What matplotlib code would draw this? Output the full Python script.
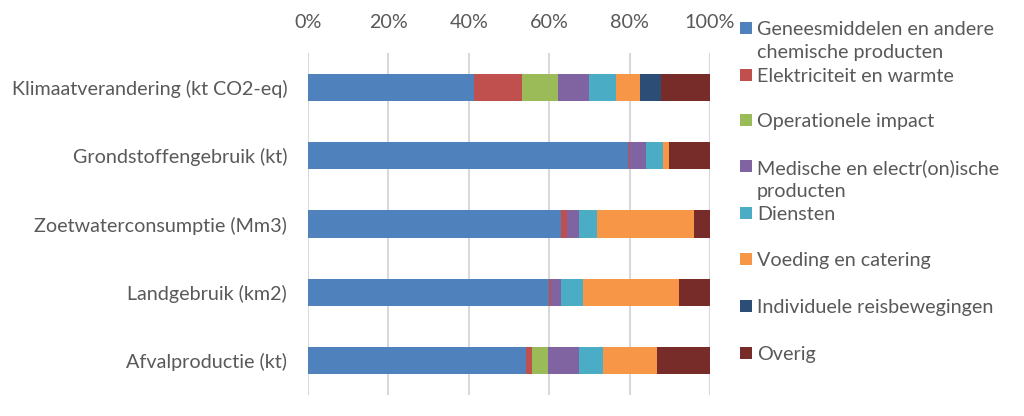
import numpy as np
import matplotlib.pyplot as plt
from matplotlib.patches import Rectangle
from matplotlib.ticker import PercentFormatter

plt.rcParams['font.family'] = ['Lato', 'DejaVu Sans']

# DATA (percent share per impact category)
categories = ["Klimaatverandering (kt CO2-eq)", "Grondstoffengebruik (kt)",
              "Zoetwaterconsumptie (Mm3)", "Landgebruik (km2)", "Afvalproductie (kt)"]
series = ["Geneesmiddelen en andere\nchemische producten", "Elektriciteit en warmte",
          "Operationele impact", "Medische en electr(on)ische\nproducten", "Diensten",
          "Voeding en catering", "Individuele reisbewegingen", "Overig"]
geneesmiddelen = [41.4, 79.5, 63.0, 59.9, 54.2]
elektriciteit = [11.8, 0.3, 1.5, 0.5, 1.4]
operationeel = [9.1, 0.0, 0.0, 0.0, 4.2]
medisch = [7.5, 4.3, 2.8, 2.6, 7.7]
diensten = [6.7, 4.3, 4.7, 5.5, 6.0]
voeding = [6.0, 1.5, 24.0, 23.7, 13.4]
reizen = [5.2, 0.0, 0.0, 0.0, 0.0]
overig = [12.3, 10.1, 4.0, 7.8, 13.1]
values = [geneesmiddelen, elektriciteit, operationeel, medisch, diensten, voeding, reizen, overig]
colors = ["#4F81BD", "#C0504D", "#9BBB59", "#8064A2", "#4BACC6", "#F79646", "#2C4D75", "#772C2A"]

txt = "#595959"
fs = 14.2
fig = plt.figure(figsize=(10.24, 4.16), dpi=100)
ax = fig.add_axes([308/1024, 21/416, 402/1024, 342/416])

y = np.arange(len(categories))
left = np.zeros(len(categories))
for vals, col in zip(values, colors):
    ax.barh(y, vals, left=left, height=0.4, color=col, zorder=3)
    left += np.array(vals)

ax.set_xlim(0, 100)
ax.set_ylim(len(categories) - 0.5, -0.5)
ax.set_xticks(np.arange(0, 101, 20))
ax.xaxis.set_major_formatter(PercentFormatter(decimals=0))
ax.xaxis.tick_top()
ax.set_yticks(y)
ax.set_yticklabels(categories)
ax.tick_params(axis='both', length=0, labelsize=fs, labelcolor=txt)
ax.tick_params(axis='x', pad=16)
ax.tick_params(axis='y', pad=15)
ax.grid(axis='x', color="#D9D9D9", linewidth=1.5, zorder=0)
for s in ax.spines.values():
    s.set_visible(False)

# legend laid out like the original (fixed slots)
slot_y = [28, 75, 120, 166, 213, 259, 306, 353]
for name, col, yy in zip(series, colors, slot_y):
    fig.patches.append(Rectangle((740/1024, 1 - (yy + 6)/416), 12/1024, 12/416,
                                 transform=fig.transFigure, facecolor=col, edgecolor='none'))
    fig.text(757/1024, 1 - (yy - 7)/416, name, ha='left', va='top',
             fontsize=fs, color=txt, linespacing=1.4)

fig.savefig("out.png", dpi=100)
